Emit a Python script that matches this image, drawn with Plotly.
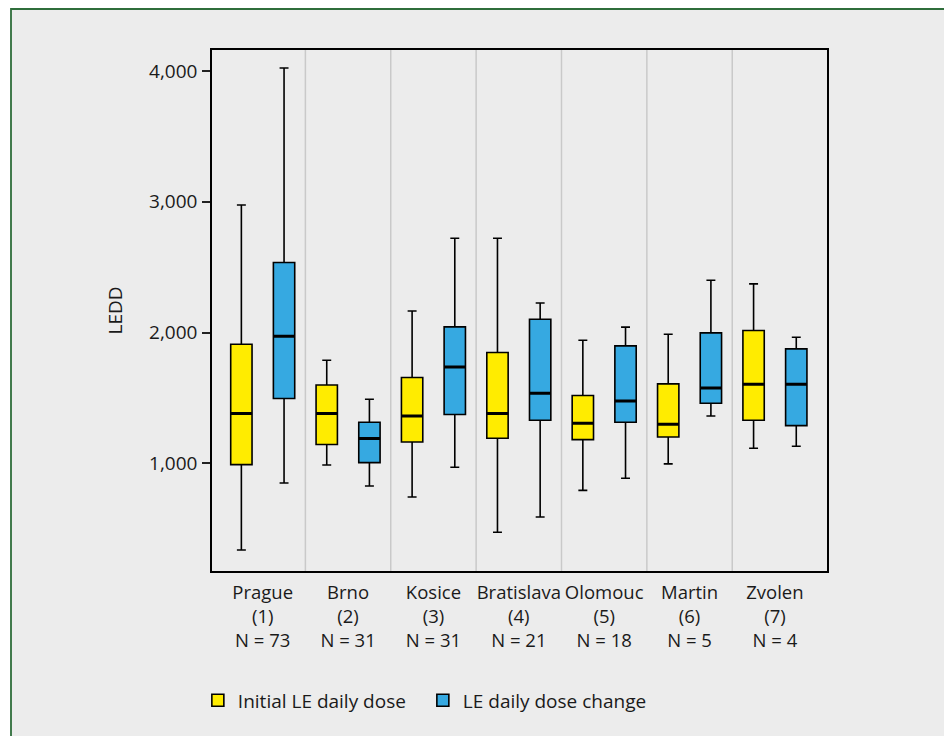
import plotly.graph_objects as go

# ---- data ----
cities = ["Prague", "Brno", "Kosice", "Bratislava", "Olomouc", "Martin", "Zvolen"]
n_patients = [73, 31, 31, 21, 18, 5, 4]

# Initial LE daily dose
init_low = [337, 987, 742, 472, 793, 995, 1115]
init_q1 = [990, 1143, 1163, 1191, 1181, 1201, 1329]
init_med = [1380, 1380, 1362, 1380, 1306, 1298, 1604]
init_q3 = [1910, 1599, 1656, 1847, 1518, 1607, 2015]
init_high = [2976, 1788, 2165, 2721, 1941, 1987, 2372]

# LE daily dose change
chg_low = [849, 826, 969, 589, 885, 1362, 1130]
chg_q1 = [1495, 1005, 1373, 1329, 1314, 1459, 1288]
chg_med = [1972, 1189, 1737, 1536, 1477, 1576, 1604]
chg_q3 = [2536, 1314, 2043, 2102, 1898, 1997, 1875]
chg_high = [4023, 1490, 2721, 2226, 2041, 2400, 1964]

y_ticks = [1000, 2000, 3000, 4000]

# ---- styling ----
FONT = "Open Sans"
YELLOW = "#FFEC00"
BLUE = "#36A9E1"
TXT = "#1a1a1a"

positions = list(range(1, len(cities) + 1))
offset = 0.25
tick_text = [f"{c}<br>({i})<br>N = {n}" for i, (c, n) in enumerate(zip(cities, n_patients), start=1)]

fig = go.Figure()
series = [
    ("Initial LE daily dose", YELLOW, -offset, init_low, init_q1, init_med, init_q3, init_high),
    ("LE daily dose change", BLUE, offset, chg_low, chg_q1, chg_med, chg_q3, chg_high),
]
for name, color, off, lo, q1, med, q3, hi in series:
    xs = [p + off for p in positions]
    fig.add_trace(go.Box(
        x=xs, lowerfence=lo, q1=q1, median=med, q3=q3, upperfence=hi,
        name=name, fillcolor=color,
        line=dict(color="black", width=1.6), width=0.25, whiskerwidth=0.42,
        boxpoints=False, hoverinfo="y",
    ))
    # thicker median stroke (degenerate box drawn at the median)
    fig.add_trace(go.Box(
        x=xs, lowerfence=med, q1=med, median=med, q3=med, upperfence=med,
        fillcolor="black", line=dict(color="black", width=3), width=0.25,
        whiskerwidth=1, boxpoints=False, showlegend=False, hoverinfo="skip",
    ))

shapes = []
# grey panel with green frame (extends past the right/bottom page edges)
shapes.append(dict(type="rect", xref="paper", yref="paper",
                   x0=(3 - 204) / 615, x1=(970 - 204) / 615,
                   y0=(562.7 - 760) / 520.7, y1=(562.7 - 1) / 520.7,
                   fillcolor="#ECECEC", line=dict(color="#2F6E3B", width=1.8),
                   layer="below"))
# group separators
for p in positions[:-1]:
    shapes.append(dict(type="line", xref="x", yref="paper",
                       x0=p + 0.5, x1=p + 0.5, y0=0, y1=1,
                       line=dict(color="#C9C9C9", width=1.5), layer="below"))

fig.update_layout(
    width=952, height=736,
    margin=dict(l=204, r=133, t=42, b=173),
    paper_bgcolor="white", plot_bgcolor="white",
    font=dict(family=FONT, size=19, color=TXT),
    boxmode="overlay",
    showlegend=True,
    legend=dict(orientation="h", x=-0.023, xanchor="left", y=-0.212, yanchor="top",
                bgcolor="rgba(0,0,0,0)", font=dict(size=19, color=TXT),
                entrywidth=180, entrywidthmode="pixels"),
    shapes=shapes,
    xaxis=dict(range=[0.406, 7.61], tickvals=positions, ticktext=tick_text,
               ticks="", showgrid=False, zeroline=False, tickangle=0,
               showline=True, mirror=True, linecolor="black", linewidth=1.6,
               tickfont=dict(size=18.5, color=TXT), ticklabelstandoff=4),
    yaxis=dict(range=[176, 4161], tickvals=y_ticks, tickformat=",",
               ticks="outside", ticklen=8, tickwidth=1.5, tickcolor="#222",
               showgrid=False, zeroline=False,
               showline=True, mirror=True, linecolor="black", linewidth=1.6,
               tickfont=dict(size=19, color=TXT), ticklabelstandoff=1,
               title=dict(text="LEDD", font=dict(size=19, color=TXT), standoff=21)),
)

fig.write_html("out.html")
